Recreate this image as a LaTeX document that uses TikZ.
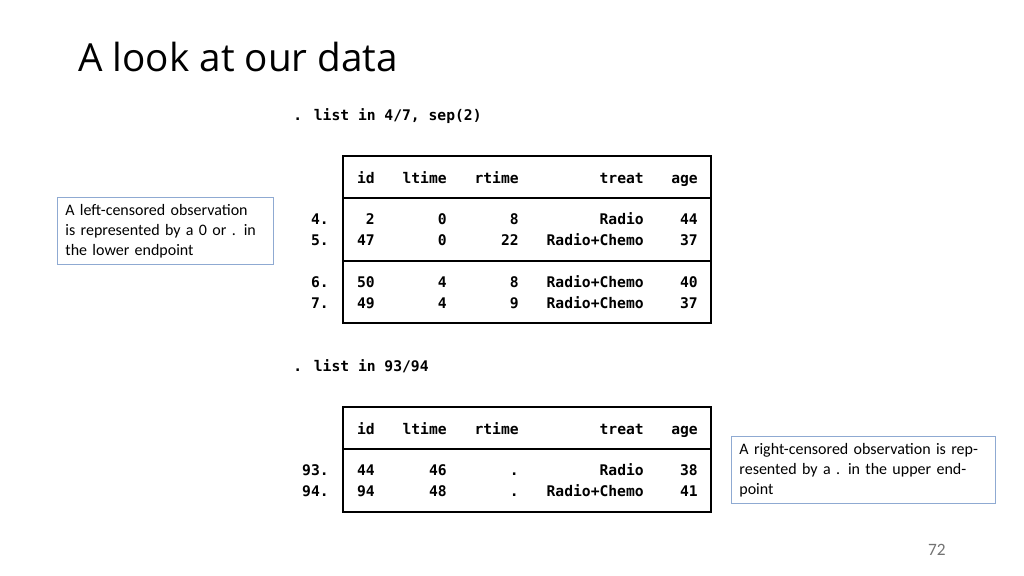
\documentclass[tikz,border=0pt]{standalone}
\usepackage{fontspec}
\setmainfont{Carlito}
\newfontfamily\titlefont{Open Sans}
\newfontfamily\codefont{DejaVu Sans Mono}
\definecolor{nb}{RGB}{143,170,210}
\begin{document}
\begin{tikzpicture}[x=0.75pt,y=-0.75pt,
  code/.style={inner sep=0,font=\codefont\bfseries\fontsize{11}{13}\selectfont},
  rc/.style={code,anchor=base east},
  lc/.style={code,anchor=base west},
  note/.style={draw=nb,line width=0.6pt,anchor=north west,align=left,
    text width=#1,inner xsep=6pt,inner ysep=5pt,font=\fontsize{12}{15}\selectfont},
  tbl/.style={draw=black,line width=0.8pt}]
\useasboundingbox (0,0) rectangle (1024,575);
\node[anchor=base west,inner sep=0,font=\titlefont\fontsize{29}{32}\selectfont] (title) at (78,71) {A look at our data};
% table 1
\node[lc] (c1) at (293,120) {. list in 4/7, sep(2)};
\draw[tbl] (343,156) rectangle (711,323);
\draw[tbl] (343,198) -- (711,198);
\draw[tbl] (343,261) -- (711,261);
\foreach \y/\n/\a/\b/\c/\d/\e in {183//id/ltime/rtime/treat/age,224/4./2/0/8/Radio/44,245/5./47/0/22/Radio+Chemo/37,287/6./50/4/8/Radio+Chemo/40,308/7./49/4/9/Radio+Chemo/37}{
  \node[rc] at (329,\y) {\n};
  \node[rc] at (375,\y) {\a};
  \node[rc] at (447,\y) {\b};
  \node[rc] at (519,\y) {\c};
  \node[rc] at (644,\y) {\d};
  \node[rc] at (698,\y) {\e};
}
% table 2
\node[lc] (c2) at (293,371) {. list in 93/94};
\draw[tbl] (343,407) rectangle (711,512);
\draw[tbl] (343,449) -- (711,449);
\foreach \y/\n/\a/\b/\c/\d/\e in {434//id/ltime/rtime/treat/age,475/93./44/46/./Radio/38,496/94./94/48/./Radio+Chemo/41}{
  \node[rc] at (329,\y) {\n};
  \node[rc] at (375,\y) {\a};
  \node[rc] at (447,\y) {\b};
  \node[rc] at (519,\y) {\c};
  \node[rc] at (644,\y) {\d};
  \node[rc] at (698,\y) {\e};
}
\node[note=150pt] (n1) at (57,197) {A left-censored observation is represented by a 0 or . in the lower endpoint};
\node[note=186pt] (n2) at (731,436) {A right-censored observation is represented by a . in the upper endpoint};
\node[anchor=base east,inner sep=0,text=black!55,font=\fontsize{13}{15}\selectfont] (pg) at (946,555) {72};
\end{tikzpicture}
\end{document}
